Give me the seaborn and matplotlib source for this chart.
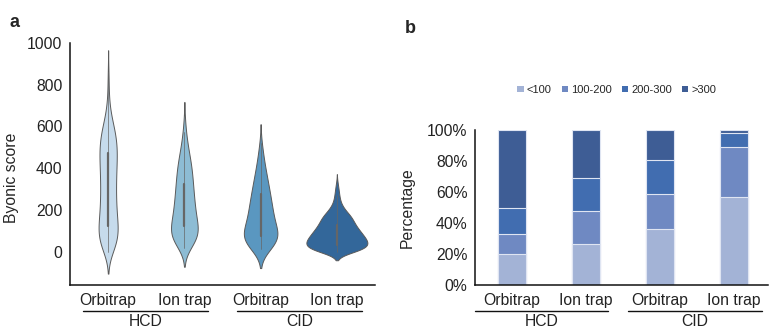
import numpy as np
import pandas as pd
import matplotlib
matplotlib.use("Agg")
import matplotlib.pyplot as plt
import matplotlib.transforms as mtransforms
from matplotlib.patches import Patch
import seaborn as sns

# ---- panel a: Byonic score distributions (binned score values and their counts)
groups = ["HCD Orbitrap", "HCD Ion trap", "CID Orbitrap", "CID Ion trap"]
tick_labels = ["Orbitrap", "Ion trap", "Orbitrap", "Ion trap"]
fragmentation = ["HCD", "CID"]

scores_hcd_orbi = [0, 25, 75, 125, 175, 225, 275, 325, 375, 425, 475, 525, 575, 625, 675, 725, 775, 825, 860]
counts_hcd_orbi = [20, 75, 115, 105, 90, 85, 82, 82, 85, 90, 95, 92, 75, 45, 20, 9, 6, 5, 4]

scores_hcd_ion = [15, 30, 75, 125, 175, 225, 275, 325, 375, 425, 475, 525, 575, 630]
counts_hcd_ion = [15, 50, 130, 120, 100, 90, 82, 75, 68, 58, 40, 25, 14, 7]

scores_cid_orbi = [12, 30, 75, 125, 175, 225, 275, 325, 375, 425, 475, 520]
counts_cid_orbi = [20, 95, 160, 115, 100, 88, 75, 60, 45, 30, 18, 8]

scores_cid_ion = [0, 10, 30, 50, 70, 90, 110, 130, 150, 170, 190, 210, 230, 250, 270, 290, 310, 330]
counts_cid_ion = [50, 170, 200, 190, 170, 150, 130, 110, 100, 90, 60, 40, 25, 18, 15, 12, 9, 5]

violin_colors = ["#c6dbec", "#8dbcd4", "#5a97c0", "#33679a"]
violin_widths = [0.25, 0.35, 0.44, 0.80]
violin_bw = [1.15, 1.2, 1.45, 1.35]

# ---- panel b: share of spectra per score range (%)
ranges = ["<100", "100-200", "200-300", ">300"]
pct_lt100 = [20.0, 26.5, 36.0, 57.0]
pct_100_200 = [13.0, 21.5, 23.0, 32.0]
pct_200_300 = [17.0, 21.0, 21.5, 9.0]
pct_gt300 = [50.0, 31.0, 19.5, 2.0]
bar_colors = ["#a3b3d6", "#6f89c2", "#416db0", "#3e5d95"]

# ---- style
sns.set_style("white")
plt.rcParams["font.family"] = ["Liberation Sans", "DejaVu Sans"]
FS = 11.3

fig = plt.figure(figsize=(7.69, 3.29), dpi=100)
ax_a = fig.add_axes([70 / 769, 1 - 285 / 329, 305 / 769, 242 / 329])
ax_b = fig.add_axes([475 / 769, 1 - 285 / 329, 293 / 769, 155 / 329])

all_scores = [scores_hcd_orbi, scores_hcd_ion, scores_cid_orbi, scores_cid_ion]
all_counts = [counts_hcd_orbi, counts_hcd_ion, counts_cid_orbi, counts_cid_ion]

for i, (g, v, c) in enumerate(zip(groups, all_scores, all_counts)):
    df_g = pd.DataFrame({"group": g, "score": np.repeat(np.asarray(v, float), c)})
    sns.violinplot(data=df_g, x="group", y="score", order=groups,
                   color=violin_colors[i], saturation=1, density_norm="width",
                   width=violin_widths[i], cut=1.9, bw_adjust=violin_bw[i],
                   linewidth=0.7, linecolor="#5a5a5a", inner="box",
                   inner_kws=dict(box_width=1.6, whis_width=0.5, marker="",
                                  color="#666666"),
                   ax=ax_a)

ax_a.set_xlim(-0.5, 3.5)
ax_a.set_ylim(-160, 1000)
ax_a.set_yticks([0, 200, 400, 600, 800, 1000])
ax_a.set_xticks(range(4))
ax_a.set_xticklabels(tick_labels)
ax_a.set_xlabel("")
ax_a.set_ylabel("Byonic score", fontsize=FS)
ax_a.yaxis.set_label_coords(-0.167, 0.442)

# ---- panel b: stacked bars, drawn as cumulative heights from the top layer down
stack = np.array([pct_lt100, pct_100_200, pct_200_300, pct_gt300])
cum = np.cumsum(stack, axis=0)
for i in range(3, -1, -1):
    df_b = pd.DataFrame({"group": groups, "pct": cum[i]})
    sns.barplot(data=df_b, x="group", y="pct", order=groups, color=bar_colors[i],
                saturation=1, width=0.39, edgecolor="#dfe5f2", linewidth=0.8,
                ax=ax_b)

ax_b.set_xlim(-0.5, 3.46)
ax_b.set_ylim(0, 100)
ax_b.set_yticks([0, 20, 40, 60, 80, 100])
ax_b.set_yticklabels([f"{t}%" for t in [0, 20, 40, 60, 80, 100]])
ax_b.set_xticks(range(4))
ax_b.set_xticklabels(tick_labels)
ax_b.set_xlabel("")
ax_b.set_ylabel("Percentage", fontsize=FS)
ax_b.yaxis.set_label_coords(-0.205, 0.497)

handles = [Patch(facecolor=c, edgecolor="none", label=r) for r, c in zip(ranges, bar_colors)]
fig.legend(handles=handles, loc="center", bbox_to_anchor=(617 / 769, 1 - 90 / 329),
           ncol=4, frameon=False, fontsize=8, handlelength=0.55, handleheight=0.55,
           handletextpad=0.3, columnspacing=0.9, borderaxespad=0)

for ax in (ax_a, ax_b):
    for s in ("top", "right"):
        ax.spines[s].set_visible(False)
    for s in ("left", "bottom"):
        ax.spines[s].set_color("#111111")
        ax.spines[s].set_linewidth(1.1)
    ax.tick_params(axis="both", length=0, pad=5.5, labelsize=FS, colors="#222222")
    ax.grid(False)


def group_labels(ax, spans):
    """Underline each fragmentation pair and write its name below."""
    tr = mtransforms.blended_transform_factory(ax.transData, fig.transFigure)
    for (x0, x1), lab in zip(spans, fragmentation):
        ax.plot([x0, x1], [1 - 311 / 329] * 2, color="#111111", lw=1.0,
                transform=tr, clip_on=False)
        ax.text((x0 + x1) / 2, 1 - 321 / 329, lab, transform=tr, ha="center",
                va="center", fontsize=FS, color="#222222")


group_labels(ax_a, [(-0.33, 1.31), (1.69, 3.33)])
group_labels(ax_b, [(-0.5, 1.3), (1.57, 3.38)])

fig.text(10 / 769, 1 - 27 / 329, "a", fontsize=13, fontweight="bold", va="baseline")
fig.text(405 / 769, 1 - 33 / 329, "b", fontsize=13, fontweight="bold", va="baseline")

fig.savefig("out.png", dpi=100)
